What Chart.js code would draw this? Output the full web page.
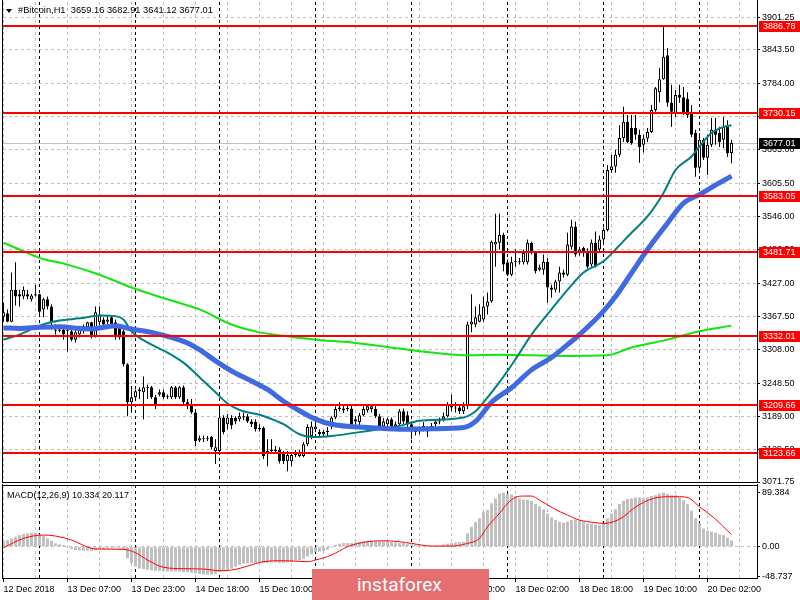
<!DOCTYPE html>
<html>
<head>
<meta charset="utf-8">
<script src="https://cdn.jsdelivr.net/npm/chart.js@4.4.1/dist/chart.umd.min.js"></script>
<style>
  html, body { margin: 0; padding: 0; background: #fff; }
  #wrap { position: relative; width: 800px; height: 600px; overflow: hidden; font-family: "Liberation Sans", Arial, sans-serif; }
  canvas { position: absolute; left: 0; }
  #main { top: 0; }
  #macd { top: 484px; }
  .lbl { position: absolute; font-size: 9px; line-height: 11px; color: #000; white-space: pre; }
  #title { left: 18px; top: 5px; font-size: 9.3px; }
  #tri { position: absolute; left: 6px; top: 9px; width: 0; height: 0;
         border-left: 3px solid transparent; border-right: 3px solid transparent; border-top: 4px solid #000; }
  #macdTitle { left: 7px; top: 490px; }
  #logo { position: absolute; left: 312px; top: 569px; width: 177px; height: 31px; background: rgb(229,110,112);
          color: #fff; font-family: Roboto, "Open Sans", sans-serif; font-size: 19px; line-height: 31px;
          padding-left: 45px; box-sizing: border-box; }
</style>
</head>
<body>
<div id="wrap">
  <canvas id="main" width="800" height="490"></canvas>
  <canvas id="macd" width="800" height="116"></canvas>
  <div id="tri"></div>
  <div id="title" class="lbl">#Bitcoin,H1  3659.16 3682.91 3641.12 3677.01</div>
  <div id="macdTitle" class="lbl">MACD(12,26,9) 10.334 20.117</div>
  <div id="logo">instaforex</div>
</div>
<script>
// H1 candles, one per bar index
const opens = [3367,3373,3358,3415,3407,3403,3407,3398,3405,3407,3380,3398,3385,3344,3342,3344,3342,3341,3326,3335,
  3350,3348,3357,3332,3357,3362,3358,3366,3357,3350,3341,3282,3214,3223,3234,3232,3241,3241,3223,3228,
  3232,3223,3223,3241,3223,3241,3214,3211,3196,3146,3150,3148,3152,3127,3127,3187,3175,3186,3186,3184,
  3189,3189,3180,3179,3166,3168,3122,3127,3130,3130,3122,3109,3109,3120,3118,3118,3139,3154,3166,3161,
  3157,3161,3171,3187,3202,3203,3202,3203,3180,3179,3191,3200,3202,3202,3189,3171,3175,3184,3171,3175,
  3198,3191,3175,3166,3162,3170,3166,3170,3175,3180,3184,3189,3205,3205,3205,3198,3207,3353,3353,3358,
  3362,3385,3394,3496,3499,3513,3464,3442,3464,3465,3464,3464,3499,3481,3451,3451,3465,3419,3415,3430,
  3446,3442,3492,3528,3481,3490,3483,3460,3499,3487,3505,3522,3629,3635,3656,3686,3715,3704,3704,3692,
  3674,3685,3697,3736,3768,3791,3834,3749,3731,3763,3759,3756,3733,3695,3633,3683,3651,3674,3701,3695,
  3683,3706,3659.16];
const highs = [3392,3380,3446,3464,3415,3421,3415,3408,3424,3408,3401,3403,3389,3353,3350,3350,3350,3344,3344,3351,
  3353,3358,3358,3385,3385,3366,3369,3369,3362,3353,3344,3284,3243,3237,3241,3260,3246,3243,3227,3237,
  3237,3228,3243,3243,3243,3244,3220,3220,3202,3155,3155,3154,3154,3148,3211,3191,3193,3191,3189,3196,
  3196,3193,3184,3184,3175,3171,3148,3148,3136,3134,3127,3127,3125,3129,3129,3143,3175,3180,3184,3166,
  3164,3170,3189,3207,3214,3211,3209,3209,3189,3195,3207,3211,3211,3207,3193,3186,3187,3187,3180,3202,
  3203,3198,3180,3171,3171,3179,3171,3177,3184,3187,3196,3214,3228,3214,3211,3214,3358,3407,3385,3389,
  3403,3410,3503,3551,3551,3517,3469,3474,3487,3472,3487,3505,3501,3483,3460,3478,3472,3424,3433,3456,
  3451,3517,3540,3537,3492,3492,3489,3505,3519,3512,3526,3638,3656,3665,3709,3742,3727,3727,3727,3701,
  3692,3704,3745,3777,3811,3886,3847,3781,3772,3781,3777,3768,3745,3701,3695,3686,3692,3722,3722,3706,
  3724,3718,3682.91];
const lows = [3358,3357,3357,3387,3385,3398,3398,3394,3403,3367,3366,3380,3344,3335,3339,3326,3305,3323,3321,3330,
  3337,3344,3328,3330,3351,3350,3353,3350,3326,3326,3278,3189,3196,3220,3220,3184,3220,3220,3202,3225,
  3220,3220,3220,3220,3220,3211,3202,3193,3136,3143,3143,3145,3130,3104,3125,3157,3166,3166,3175,3180,
  3182,3177,3170,3162,3162,3113,3100,3122,3122,3105,3104,3091,3100,3116,3116,3116,3136,3148,3161,3152,
  3152,3154,3166,3184,3198,3195,3198,3171,3175,3173,3189,3196,3196,3186,3168,3166,3170,3166,3168,3171,
  3175,3170,3148,3155,3157,3162,3152,3164,3170,3175,3180,3187,3198,3196,3193,3193,3202,3339,3348,3357,
  3358,3371,3392,3456,3487,3448,3439,3439,3456,3460,3460,3460,3478,3444,3448,3442,3392,3401,3410,3410,
  3437,3439,3487,3474,3476,3474,3453,3456,3455,3483,3499,3519,3624,3624,3652,3679,3677,3674,3683,3642,
  3660,3679,3695,3733,3750,3790,3742,3706,3724,3749,3727,3722,3688,3617,3624,3647,3620,3670,3674,3670,
  3668,3652,3641.12];
const closes = [3375,3358,3415,3403,3403,3415,3403,3405,3407,3376,3398,3385,3357,3342,3344,3335,3344,3326,3339,3348,
  3341,3357,3332,3375,3371,3353,3362,3353,3332,3330,3282,3214,3223,3234,3237,3241,3239,3223,3207,3232,
  3223,3225,3241,3223,3241,3214,3207,3196,3145,3150,3148,3150,3134,3134,3187,3161,3187,3173,3180,3189,
  3187,3180,3175,3166,3168,3118,3127,3130,3127,3109,3109,3120,3120,3123,3123,3139,3170,3171,3171,3157,
  3161,3162,3187,3202,3205,3200,3203,3175,3184,3191,3202,3207,3207,3189,3171,3180,3184,3171,3175,3198,
  3180,3175,3162,3161,3166,3171,3162,3171,3180,3182,3189,3211,3209,3203,3198,3207,3353,3358,3366,3371,
  3385,3394,3501,3501,3513,3460,3442,3464,3465,3464,3481,3499,3481,3448,3455,3465,3419,3415,3430,3446,
  3442,3496,3528,3478,3487,3481,3456,3499,3456,3505,3522,3629,3635,3656,3686,3715,3679,3677,3692,3670,
  3685,3697,3736,3775,3791,3831,3749,3733,3763,3758,3731,3727,3692,3633,3683,3651,3674,3701,3692,3679,
  3706,3659,3677.01];

// moving averages read at sample bars: [bar index, price]
const maFast = [[0,3326],[4,3335],[9,3351],[14,3360],[19,3364],[24,3369],[28,3368],[30,3362],[32,3341],[37,3317],
  [41,3303],[45,3285],[49,3259],[53,3232],[56,3212],[60,3198],[64,3192],[66,3187],[70,3175],[74,3157],[78,3152],
  [82,3154],[91,3163],[99,3172],[104,3181],[115,3187],[118,3198],[120,3214],[124,3250],[128,3291],[132,3335],
  [137,3380],[141,3415],[145,3446],[150,3466],[153,3487],[157,3517],[161,3546],[165,3588],[168,3629],[172,3653],
  [174,3671],[177,3695],[180,3706],[182,3709]];
const maMid = [[0,3347],[4,3346],[9,3348],[14,3349],[19,3346],[22,3345],[28,3351],[32,3345],[37,3339],[41,3332],
  [46,3320],[49,3308],[53,3288],[57,3270],[62,3252],[66,3237],[70,3216],[74,3199],[78,3184],[82,3175],[91,3169],
  [99,3166],[107,3167],[115,3169],[118,3180],[122,3214],[127,3240],[132,3272],[137,3294],[141,3317],[144,3335],
  [150,3377],[153,3403],[157,3445],[161,3487],[166,3534],[170,3570],[174,3585],[178,3602],[182,3618]];
const maSlow = [[0,3499],[4,3487],[9,3472],[16,3460],[24,3442],[32,3419],[41,3398],[49,3380],[57,3353],[64,3339],
  [70,3333],[78,3326],[87,3321],[99,3310],[107,3303],[116,3298],[124,3299],[132,3298],[141,3297],[151,3298],
  [157,3312],[166,3326],[174,3341],[182,3351]];

// MACD(12,26,9): main histogram per bar, signal read at sample bars
const macdMain = [9.4,11,13.8,16.5,19.3,21,22,23,23,20.4,17.6,13.8,9.9,5.5,3.9,2.8,
  -2,-4,-5.5,-6,-6.6,-6.6,-6.6,-5.5,-4.4,-3.9,-3.3,-2.8,-2.2,-2.8,-5,
  -19,-27,-33,-36,-37,-38,-39,-40,-40,-40,-41,-41,-41,-41,-42,-42,-43,-44,
  -45,-46,-46,-46,-45,-42,-41,-38,-36,-33,-30,-28,-27,-27,-27,
  -26,-27,-27,-26,-26,-27,-27,-26,-25,-23,-22,-20,-16,-12,-9,-8,-7,-5,-2,
  3,5,6,6,6,7,8,9,10,10,9,9,9,9,8,7,
  6,6,5,4,3.5,2,1.5,1,1,1.5,2,3.5,5,6,7,7.5,8,
  22,33,41,47,58,61,72,80,88,89.4,88,86.6,84,80,78,78,76,71,67,62,55,48.5,44,41.4,39.7,41.4,44,45,44,41.4,
  38.6,37.5,36,36,38.6,47,55,62,70.6,76,79,80,81.7,81.7,80,81.7,84,85.5,88,89.4,87.5,85.5,85.5,81.7,77,
  70.6,59.6,47,38.6,30.3,26.5,24.8,23.2,20.4,19.3,14.9,10.3];
const macdSignal = [[0,-1.7],[5,13.8],[10,19.3],[13,17.7],[17,11],[22,-2.8],[24,-3.9],[30,-4.4],[33,-9.9],[36,-22],
  [40,-34],[45,-36.4],[50,-37],[54,-39.7],[58,-37.5],[61,-32],[65,-24.8],[70,-23.2],[76,-24.8],[78,-22],[82,-13.8],
  [86,0],[90,7.2],[95,9.9],[99,8.3],[102,5.5],[107,1.1],[112,1.1],[116,5.5],[119,13.8],[121,33.1],[124,55.2],
  [126,71.7],[128,81.7],[130,83.9],[132,83.9],[134,77.2],[137.5,63.4],[141,52.4],[144,44.1],[147.5,40.3],[150,38.6],
  [152.5,41.4],[155,49.7],[157.5,63.4],[160,73.4],[162.5,80],[166,82.8],[169,82.8],[171.5,80],[174,66.2],
  [177.5,48.5],[182,20.1]];

const priceTicks = [3901.25,3843.50,3784.00,3724.50,3665.00,3605.50,3546.00,3486.50,3427.00,3367.50,3308.00,3248.50,3189.00,3129.50,3071.75];
const macdTicks = [89.384, 0, -48.737];
const levels = [3886.78, 3730.15, 3583.05, 3481.71, 3332.01, 3209.66, 3123.66];
const lastPrice = 3677.01;
const gridIdx = [0,8,16,24,32,40,48,56,64,72,80,88,96,104,112,120,128,136,144,152,160,168,176,184];
const timeIdx = [0,16,32,48,64,80,96,112,128,144,160,176];
const timeLabels = ['12 Dec 2018','13 Dec 07:00','13 Dec 23:00','14 Dec 18:00','15 Dec 10:00','16 Dec 02:00',
  '16 Dec 18:00','17 Dec 10:00','18 Dec 02:00','18 Dec 18:00','19 Dec 10:00','20 Dec 02:00'];
const separatorIdx = [9,33,54,78,102,126,150,174];

Chart.defaults.font.family = '"Liberation Sans", Arial, sans-serif';
Chart.defaults.font.size = 9;
Chart.defaults.color = '#000';

const xMin = -0.125, xMax = 188.375;
const gridGray = '#c0c0c0';
const pts = arr => arr.map(p => ({ x: p[0], y: p[1] }));
// keep the label overhang from pushing the plot area around
const noPad = s => { s.paddingTop = 0; s.paddingBottom = 0; s.paddingLeft = 0; s.paddingRight = 0; };

const separators = {
  id: 'separators',
  beforeDatasetsDraw(chart) {
    const { ctx, chartArea: a, scales: { x } } = chart;
    ctx.save();
    ctx.strokeStyle = '#000';
    ctx.lineWidth = 1;
    ctx.setLineDash([3, 3]);
    separatorIdx.forEach(i => {
      const px = Math.floor(x.getPixelForValue(i)) + 0.5;
      ctx.beginPath();
      ctx.moveTo(px, a.top);
      ctx.lineTo(px, a.bottom);
      ctx.stroke();
    });
    ctx.restore();
  }
};

function frame(chart, sides) {
  const { ctx, chartArea: a } = chart;
  ctx.save();
  ctx.strokeStyle = '#000';
  ctx.lineWidth = 1;
  ctx.beginPath();
  if (sides.includes('l')) { ctx.moveTo(a.left - 0.5, a.top - 2); ctx.lineTo(a.left - 0.5, a.bottom + 1); }
  if (sides.includes('r')) { ctx.moveTo(a.right + 0.5, 0); ctx.lineTo(a.right + 0.5, a.bottom + 1); }
  if (sides.includes('t')) { ctx.moveTo(a.left - 1, a.top + 0.5); ctx.lineTo(a.right + 1, a.top + 0.5); }
  if (sides.includes('b')) { ctx.moveTo(a.left - 1, a.bottom + 0.5); ctx.lineTo(a.right + 1, a.bottom + 0.5); }
  ctx.stroke();
  ctx.restore();
}

const levelLines = {
  id: 'levelLines',
  beforeDatasetsDraw(chart) {
    const { ctx, chartArea: a, scales: { y } } = chart;
    const py = Math.floor(y.getPixelForValue(lastPrice)) + 0.5;
    ctx.save();
    ctx.strokeStyle = gridGray;
    ctx.lineWidth = 1;
    ctx.beginPath();
    ctx.moveTo(a.left, py);
    ctx.lineTo(a.right, py);
    ctx.stroke();
    ctx.restore();
  },
  afterDatasetsDraw(chart) {
    const { ctx, chartArea: a, scales: { y } } = chart;
    ctx.save();
    ctx.strokeStyle = '#ff0000';
    ctx.lineWidth = 2;
    levels.forEach(v => {
      const py = Math.round(y.getPixelForValue(v));
      ctx.beginPath();
      ctx.moveTo(a.left, py);
      ctx.lineTo(a.right, py);
      ctx.stroke();
    });
    ctx.restore();
  },
  afterDraw(chart) {
    const { ctx, chartArea: a, scales: { y } } = chart;
    frame(chart, 'lrb');
    ctx.save();
    ctx.font = '9px "Liberation Sans", Arial, sans-serif';
    ctx.textBaseline = 'middle';
    const tag = (v, bg) => {
      const py = Math.round(y.getPixelForValue(v));
      ctx.fillStyle = bg;
      ctx.fillRect(a.right + 2, py - 5, 41, 11);
      ctx.fillStyle = '#fff';
      ctx.fillText(v.toFixed(2), a.right + 6, py + 0.5);
    };
    levels.forEach(v => tag(v, '#ff0000'));
    tag(lastPrice, '#000');
    ctx.restore();
  }
};

new Chart(document.getElementById('main'), {
  type: 'bar',
  data: {
    datasets: [
      { type: 'line', label: 'MA fast', data: pts(maFast), borderColor: '#008080', borderWidth: 2,
        pointRadius: 0, cubicInterpolationMode: 'monotone', order: 1 },
      { type: 'line', label: 'MA mid', data: pts(maMid), borderColor: '#4169e1', borderWidth: 5,
        pointRadius: 0, cubicInterpolationMode: 'monotone', order: 0 },
      { type: 'line', label: 'MA slow', data: pts(maSlow), borderColor: '#11e611', borderWidth: 2,
        pointRadius: 0, cubicInterpolationMode: 'monotone', order: 2 },
      { label: 'body', data: closes.map((c, i) => ({ x: i, y: [opens[i], c] })),
        backgroundColor: closes.map((c, i) => c >= opens[i] ? '#fff' : '#000'),
        borderColor: '#000', borderWidth: 1, borderSkipped: false, minBarLength: 1, inflateAmount: 0,
        grouped: false, categoryPercentage: 1, barPercentage: 0.75, order: 3 },
      { label: 'wick', data: highs.map((h, i) => ({ x: i, y: [lows[i], h] })),
        backgroundColor: '#000', borderWidth: 0, inflateAmount: 0,
        grouped: false, categoryPercentage: 1, barPercentage: 0.25, order: 4 }
    ]
  },
  options: {
    responsive: false, animation: false, devicePixelRatio: 1,
    layout: { padding: { left: 3, top: 2, right: 0, bottom: 8 } },
    plugins: { legend: { display: false }, tooltip: { enabled: false } },
    scales: {
      x: {
        type: 'linear', min: xMin, max: xMax, offset: false,
        ticks: { display: false },
        grid: { color: gridGray, drawTicks: false, offset: false },
        border: { display: false, dash: [3, 3] },
        afterBuildTicks: s => { s.ticks = gridIdx.map(v => ({ value: v })); },
        afterFit: s => { s.height = 0; noPad(s); }
      },
      y: {
        position: 'right', min: 3071.75, max: 3929,
        afterBuildTicks: s => { s.ticks = priceTicks.map(v => ({ value: v })); },
        afterFit: s => { s.width = 43; noPad(s); },
        ticks: { padding: 2, callback: v => v.toFixed(2) },
        grid: { color: gridGray, tickColor: '#000', tickLength: 3 },
        border: { display: false, dash: [3, 3] }
      }
    }
  },
  plugins: [separators, levelLines]
});

new Chart(document.getElementById('macd'), {
  type: 'bar',
  data: {
    datasets: [
      { type: 'line', label: 'signal', data: pts(macdSignal), borderColor: '#ff0000', borderWidth: 1,
        pointRadius: 0, cubicInterpolationMode: 'monotone', order: 0 },
      { label: 'MACD', data: macdMain.map((v, i) => ({ x: i, y: v })), backgroundColor: gridGray,
        borderWidth: 0, inflateAmount: 0, grouped: false, categoryPercentage: 1, barPercentage: 0.75, order: 1 }
    ]
  },
  options: {
    responsive: false, animation: false, devicePixelRatio: 1,
    layout: { padding: { left: 3, top: 1, right: 0, bottom: 0 } },
    plugins: { legend: { display: false }, tooltip: { enabled: false } },
    scales: {
      x: {
        type: 'linear', min: xMin, max: xMax, offset: false,
        afterBuildTicks: s => { s.ticks = gridIdx.map(v => ({ value: v })); },
        afterFit: s => { s.height = 22; noPad(s); },
        ticks: {
          align: 'start', autoSkip: false, maxRotation: 0, padding: 2,
          callback: v => { const k = timeIdx.indexOf(v); return k >= 0 ? timeLabels[k] : ''; }
        },
        grid: {
          color: gridGray, offset: false, tickLength: 4,
          tickColor: c => (c.tick && timeIdx.includes(c.tick.value)) ? '#000' : 'rgba(0,0,0,0)'
        },
        border: { display: false, dash: [3, 3] }
      },
      y: {
        position: 'right', min: -51.8, max: 102.2,
        afterBuildTicks: s => { s.ticks = macdTicks.map(v => ({ value: v })); },
        afterFit: s => { s.width = 43; noPad(s); },
        ticks: { padding: 2, callback: v => v === 0 ? '0.00' : String(v) },
        grid: {
          color: c => (c.tick && c.tick.value === 0) ? gridGray : 'rgba(0,0,0,0)',
          tickColor: '#000', tickLength: 3
        },
        border: { display: false, dash: [3, 3] }
      }
    }
  },
  plugins: [separators, { id: 'macdFrame', afterDraw: c => frame(c, 'lrtb') }]
});
</script>
</body>
</html>
